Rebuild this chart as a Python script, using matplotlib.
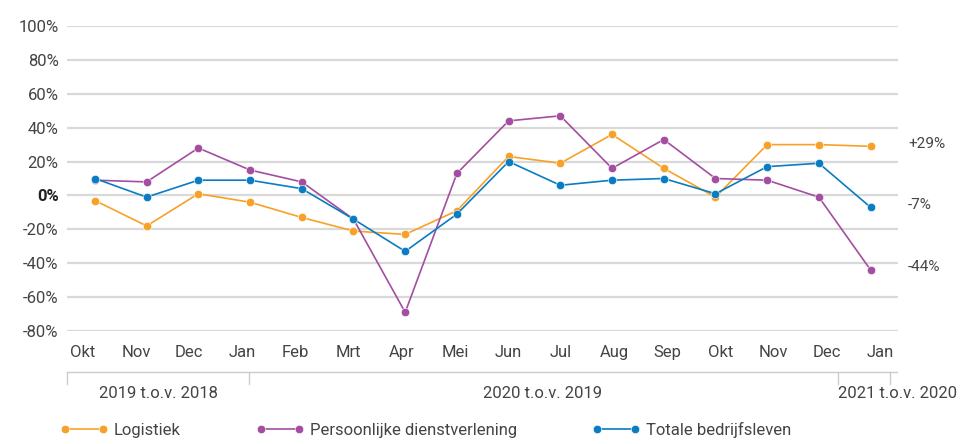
import numpy as np
import matplotlib
matplotlib.use("Agg")
import matplotlib.pyplot as plt
from matplotlib.transforms import blended_transform_factory

plt.rcParams['font.family'] = ['Roboto', 'DejaVu Sans']

months = ['Okt', 'Nov', 'Dec', 'Jan', 'Feb', 'Mrt', 'Apr', 'Mei', 'Jun',
          'Jul', 'Aug', 'Sep', 'Okt', 'Nov', 'Dec', 'Jan']
logistiek = [-3, -18, 1, -4, -13, -21, -23, -9, 23, 19, 36, 16, -1, 30, 30, 29]
persoonlijk = [9, 8, 28, 15, 8, -14, -69, 13, 44, 47, 16, 33, 10, 9, -1, -44]
totaal = [10, -1, 9, 9, 4, -14, -33, -11, 20, 6, 9, 10, 1, 17, 19, -7]
series_names = ['Logistiek', 'Persoonlijke dienstverlening', 'Totale bedrijfsleven']
end_labels = ['+29%', '-44%', '-7%']
periods = ['2019 t.o.v. 2018', '2020 t.o.v. 2019', '2021 t.o.v. 2020']
yticks = [100, 80, 60, 40, 20, 0, -20, -40, -60, -80]

colors = ['#F7A128', '#A34EA0', '#0A7CC2']
text_color = '#444444'

fig = plt.figure(figsize=(9.71, 4.44), dpi=100)
ax = fig.add_axes([67 / 971, 1 - 331 / 444, (898 - 67) / 971, (331 - 26) / 444])

x = np.arange(len(months))
handles = []
for vals, c, name in zip([logistiek, persoonlijk, totaal], colors, series_names):
    h, = ax.plot(x, vals, color=c, lw=1.2, marker='o', markersize=6,
                 markeredgecolor='white', markeredgewidth=0.4, label=name, zorder=3)
    handles.append(h)

ax.set_xlim(-0.54, 15.53)
ax.set_ylim(-80, 100)
ax.set_yticks(yticks)
for y in yticks:
    ax.axhline(y, color='#d9d9d9', lw=1.6, zorder=1)

ax.set_yticklabels([f'{v}%' for v in yticks], fontsize=12, color=text_color)
for lbl, v in zip(ax.get_yticklabels(), yticks):
    if v == 0:
        lbl.set_fontweight('bold')
        lbl.set_color('#222222')
ax.tick_params(axis='y', length=0, pad=6)

# month labels
ax.set_xticks(np.linspace(-0.23, 15.18, len(months)))
ax.set_xticklabels(months, fontsize=12, color=text_color)
ax.tick_params(axis='x', length=0, pad=10)

for s in ax.spines.values():
    s.set_visible(False)

# end value labels
trans_r = blended_transform_factory(ax.transAxes, ax.transData)
for vals, lab in zip([logistiek, persoonlijk, totaal], end_labels):
    ax.text(1.012, vals[-1] + 1.5, lab, transform=trans_r, fontsize=11,
            color=text_color, va='center', ha='left')

# period bracket
def fx(px):
    return px / 971

def fy(py):
    return 1 - py / 444

fig.add_artist(plt.Line2D([fx(67), fx(897)], [fy(372), fy(372)], color='#cccccc', lw=1))
for px in [67, 249, 838, 890]:
    fig.add_artist(plt.Line2D([fx(px), fx(px)], [fy(372), fy(384)], color='#cccccc', lw=1))
for px, lab in zip([158, 543, 898], periods):
    fig.text(fx(px), fy(393), lab, fontsize=12, color=text_color, ha='center', va='center')

fig.legend(handles=handles, loc='center left', bbox_to_anchor=(fx(60), fy(430)),
           ncol=3, frameon=False, numpoints=2, handlelength=2.88, handletextpad=0.36,
           columnspacing=4.5, fontsize=12, labelcolor=text_color,
           borderpad=0, borderaxespad=0)

fig.savefig('out.png', dpi=100)
